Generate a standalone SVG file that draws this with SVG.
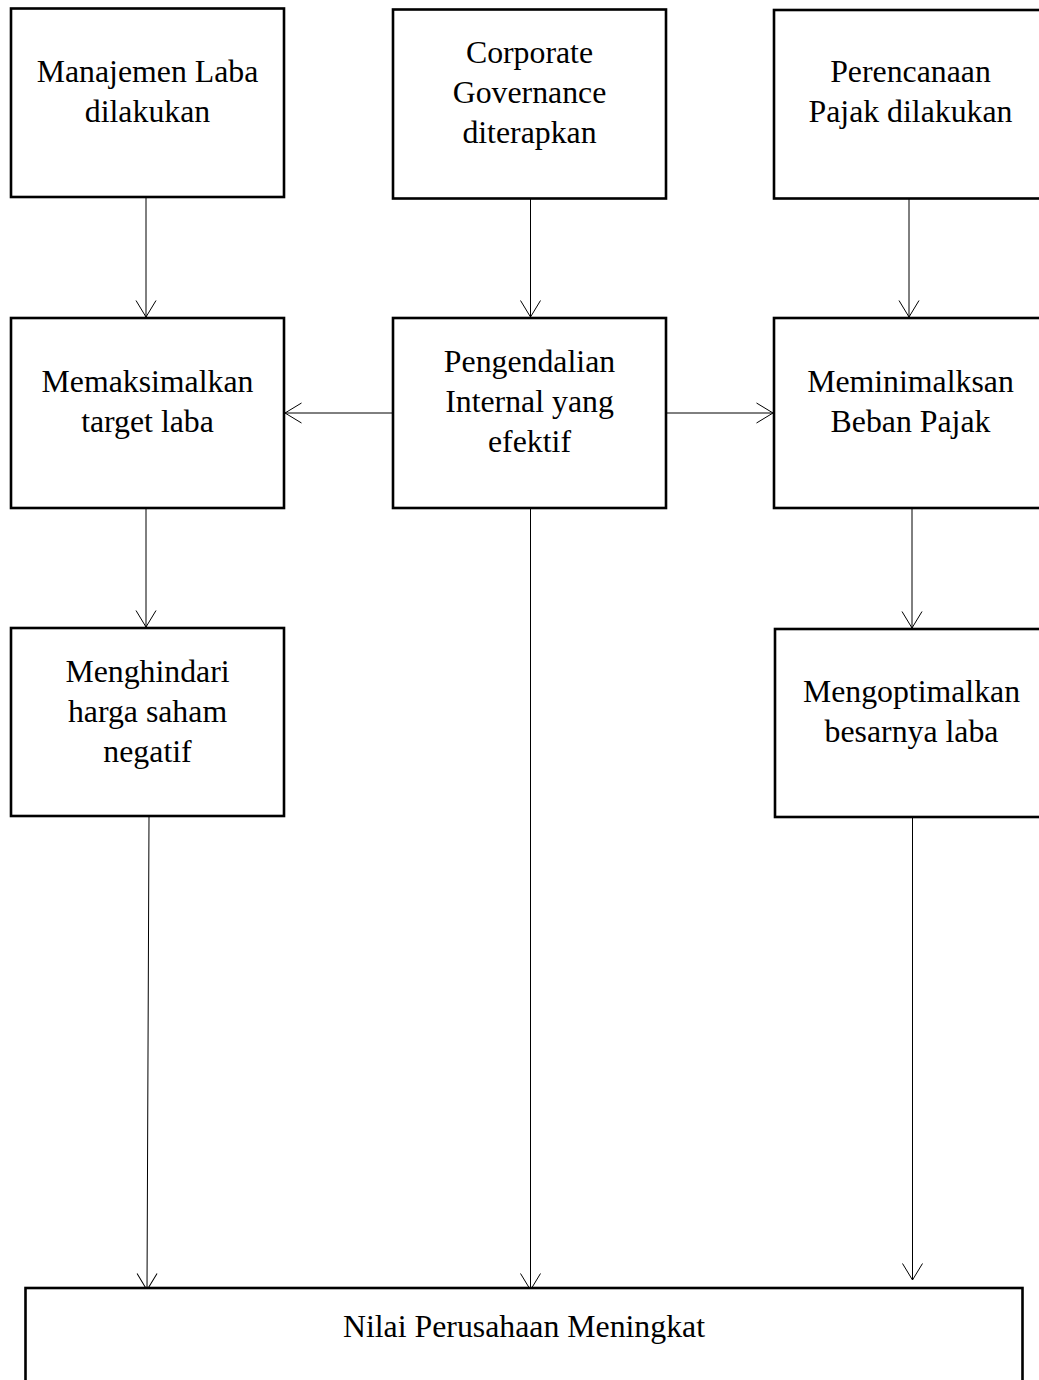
<svg xmlns="http://www.w3.org/2000/svg" width="1039" height="1380" viewBox="0 0 1039 1380">
<style>
.box{fill:#fff;stroke:#000;stroke-width:2.6}
.t{font-family:"Liberation Serif","Times New Roman",serif;font-size:31.8px;fill:#000;text-anchor:middle}
.c{stroke:#000;stroke-width:1;fill:none}
</style>
<defs>
<marker id="arr" markerUnits="userSpaceOnUse" markerWidth="22" markerHeight="24" viewBox="0 0 22 24" refX="18" refY="12" orient="auto">
<path d="M1.5,2 L18,12 L1.5,22" fill="none" stroke="#000" stroke-width="1"/>
</marker>
</defs>
<rect width="1039" height="1380" fill="#fff"/>
<g id="connectors">
<line class="c" x1="146" y1="198" x2="146" y2="317" marker-end="url(#arr)"/>
<line class="c" x1="530.5" y1="199" x2="530.5" y2="317" marker-end="url(#arr)"/>
<line class="c" x1="909" y1="199" x2="909" y2="317" marker-end="url(#arr)"/>
<line class="c" x1="393" y1="413" x2="285" y2="413" marker-end="url(#arr)"/>
<line class="c" x1="666" y1="413" x2="773" y2="413" marker-end="url(#arr)"/>
<line class="c" x1="146" y1="508" x2="146" y2="627" marker-end="url(#arr)"/>
<line class="c" x1="912" y1="508" x2="912" y2="628" marker-end="url(#arr)"/>
<line class="c" x1="149" y1="816" x2="147" y2="1290" marker-end="url(#arr)"/>
<line class="c" x1="530.5" y1="508" x2="530.5" y2="1290" marker-end="url(#arr)"/>
<line class="c" x1="912.5" y1="817" x2="912.5" y2="1280" marker-end="url(#arr)"/>
</g>
<g id="n1"><rect class="box" x="11" y="8.5" width="273" height="188.5"/>
<text class="t" x="147.5" y="82">Manajemen Laba</text><text class="t" x="147.5" y="122">dilakukan</text></g>
<g id="n2"><rect class="box" x="393" y="9.5" width="273" height="189"/>
<text class="t" x="529.5" y="63">Corporate</text><text class="t" x="529.5" y="103">Governance</text><text class="t" x="529.5" y="143">diterapkan</text></g>
<g id="n3"><rect class="box" x="774" y="10" width="273" height="188.5"/>
<text class="t" x="910.5" y="82">Perencanaan</text><text class="t" x="910.5" y="122">Pajak dilakukan</text></g>
<g id="n4"><rect class="box" x="11" y="318" width="273" height="190"/>
<text class="t" x="147.5" y="392">Memaksimalkan</text><text class="t" x="147.5" y="432">target laba</text></g>
<g id="n5"><rect class="box" x="393" y="318" width="273" height="190"/>
<text class="t" x="529.5" y="372">Pengendalian</text><text class="t" x="529.5" y="412">Internal yang</text><text class="t" x="529.5" y="452">efektif</text></g>
<g id="n6"><rect class="box" x="774" y="318" width="273" height="190"/>
<text class="t" x="910.5" y="392">Meminimalksan</text><text class="t" x="910.5" y="432">Beban Pajak</text></g>
<g id="n7"><rect class="box" x="11" y="628" width="273" height="188"/>
<text class="t" x="147.5" y="682">Menghindari</text><text class="t" x="147.5" y="722">harga saham</text><text class="t" x="147.5" y="762">negatif</text></g>
<g id="n8"><rect class="box" x="775" y="629" width="273" height="188"/>
<text class="t" x="911.5" y="702">Mengoptimalkan</text><text class="t" x="911.5" y="742">besarnya laba</text></g>
<g id="n9"><rect class="box" x="25.5" y="1288" width="997" height="120"/>
<text class="t" x="524" y="1337">Nilai Perusahaan Meningkat</text></g>
</svg>
